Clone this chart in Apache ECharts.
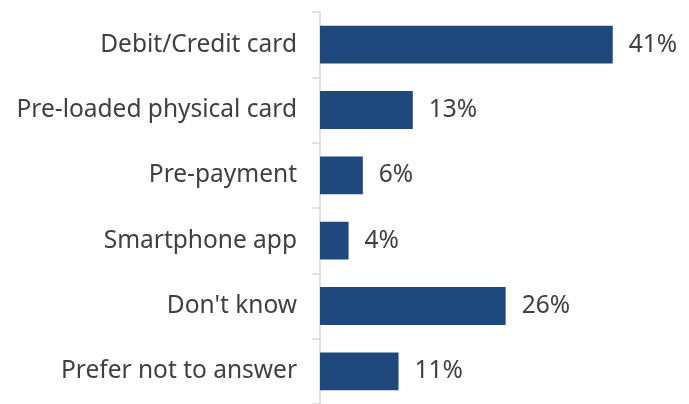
<!DOCTYPE html>
<html>
<head>
<meta charset="utf-8">
<script src="https://cdn.jsdelivr.net/npm/echarts@6/dist/echarts.min.js"></script>
<style>
  html, body { margin: 0; padding: 0; background: #fff; }
  #chart { width: 689px; height: 404px; }
</style>
</head>
<body>
<div id="chart"></div>
<script>
// Payment methods and their share of respondents (%)
const categories = [
  'Debit/Credit card',
  'Pre-loaded physical card',
  'Pre-payment',
  'Smartphone app',
  "Don't know",
  'Prefer not to answer'
];
const shares = [41, 13, 6, 4, 26, 11];

const chart = echarts.init(document.getElementById('chart'));
const fontFamily = '"Noto Sans", "Open Sans", sans-serif';

chart.setOption({
  animation: false,
  grid: { left: 320, right: 12, top: 12, bottom: -3 },
  xAxis: {
    type: 'value',
    min: 0,
    max: 50,
    show: false
  },
  yAxis: {
    type: 'category',
    data: categories,
    inverse: true,
    axisLine: { show: true, lineStyle: { color: '#d9d9d9', width: 1.5 } },
    axisTick: { show: true, length: 8, lineStyle: { color: '#d9d9d9', width: 1.5 } },
    axisLabel: {
      margin: 23,
      color: '#404040',
      fontSize: 24.5,
      fontFamily: fontFamily
    }
  },
  series: [{
    type: 'bar',
    data: shares,
    barCategoryGap: '42%',
    itemStyle: { color: '#1f497d' },
    label: {
      show: true,
      position: 'right',
      distance: 16,
      formatter: '{c}%',
      color: '#404040',
      fontSize: 24.5,
      fontFamily: fontFamily
    }
  }]
});
</script>
</body>
</html>
